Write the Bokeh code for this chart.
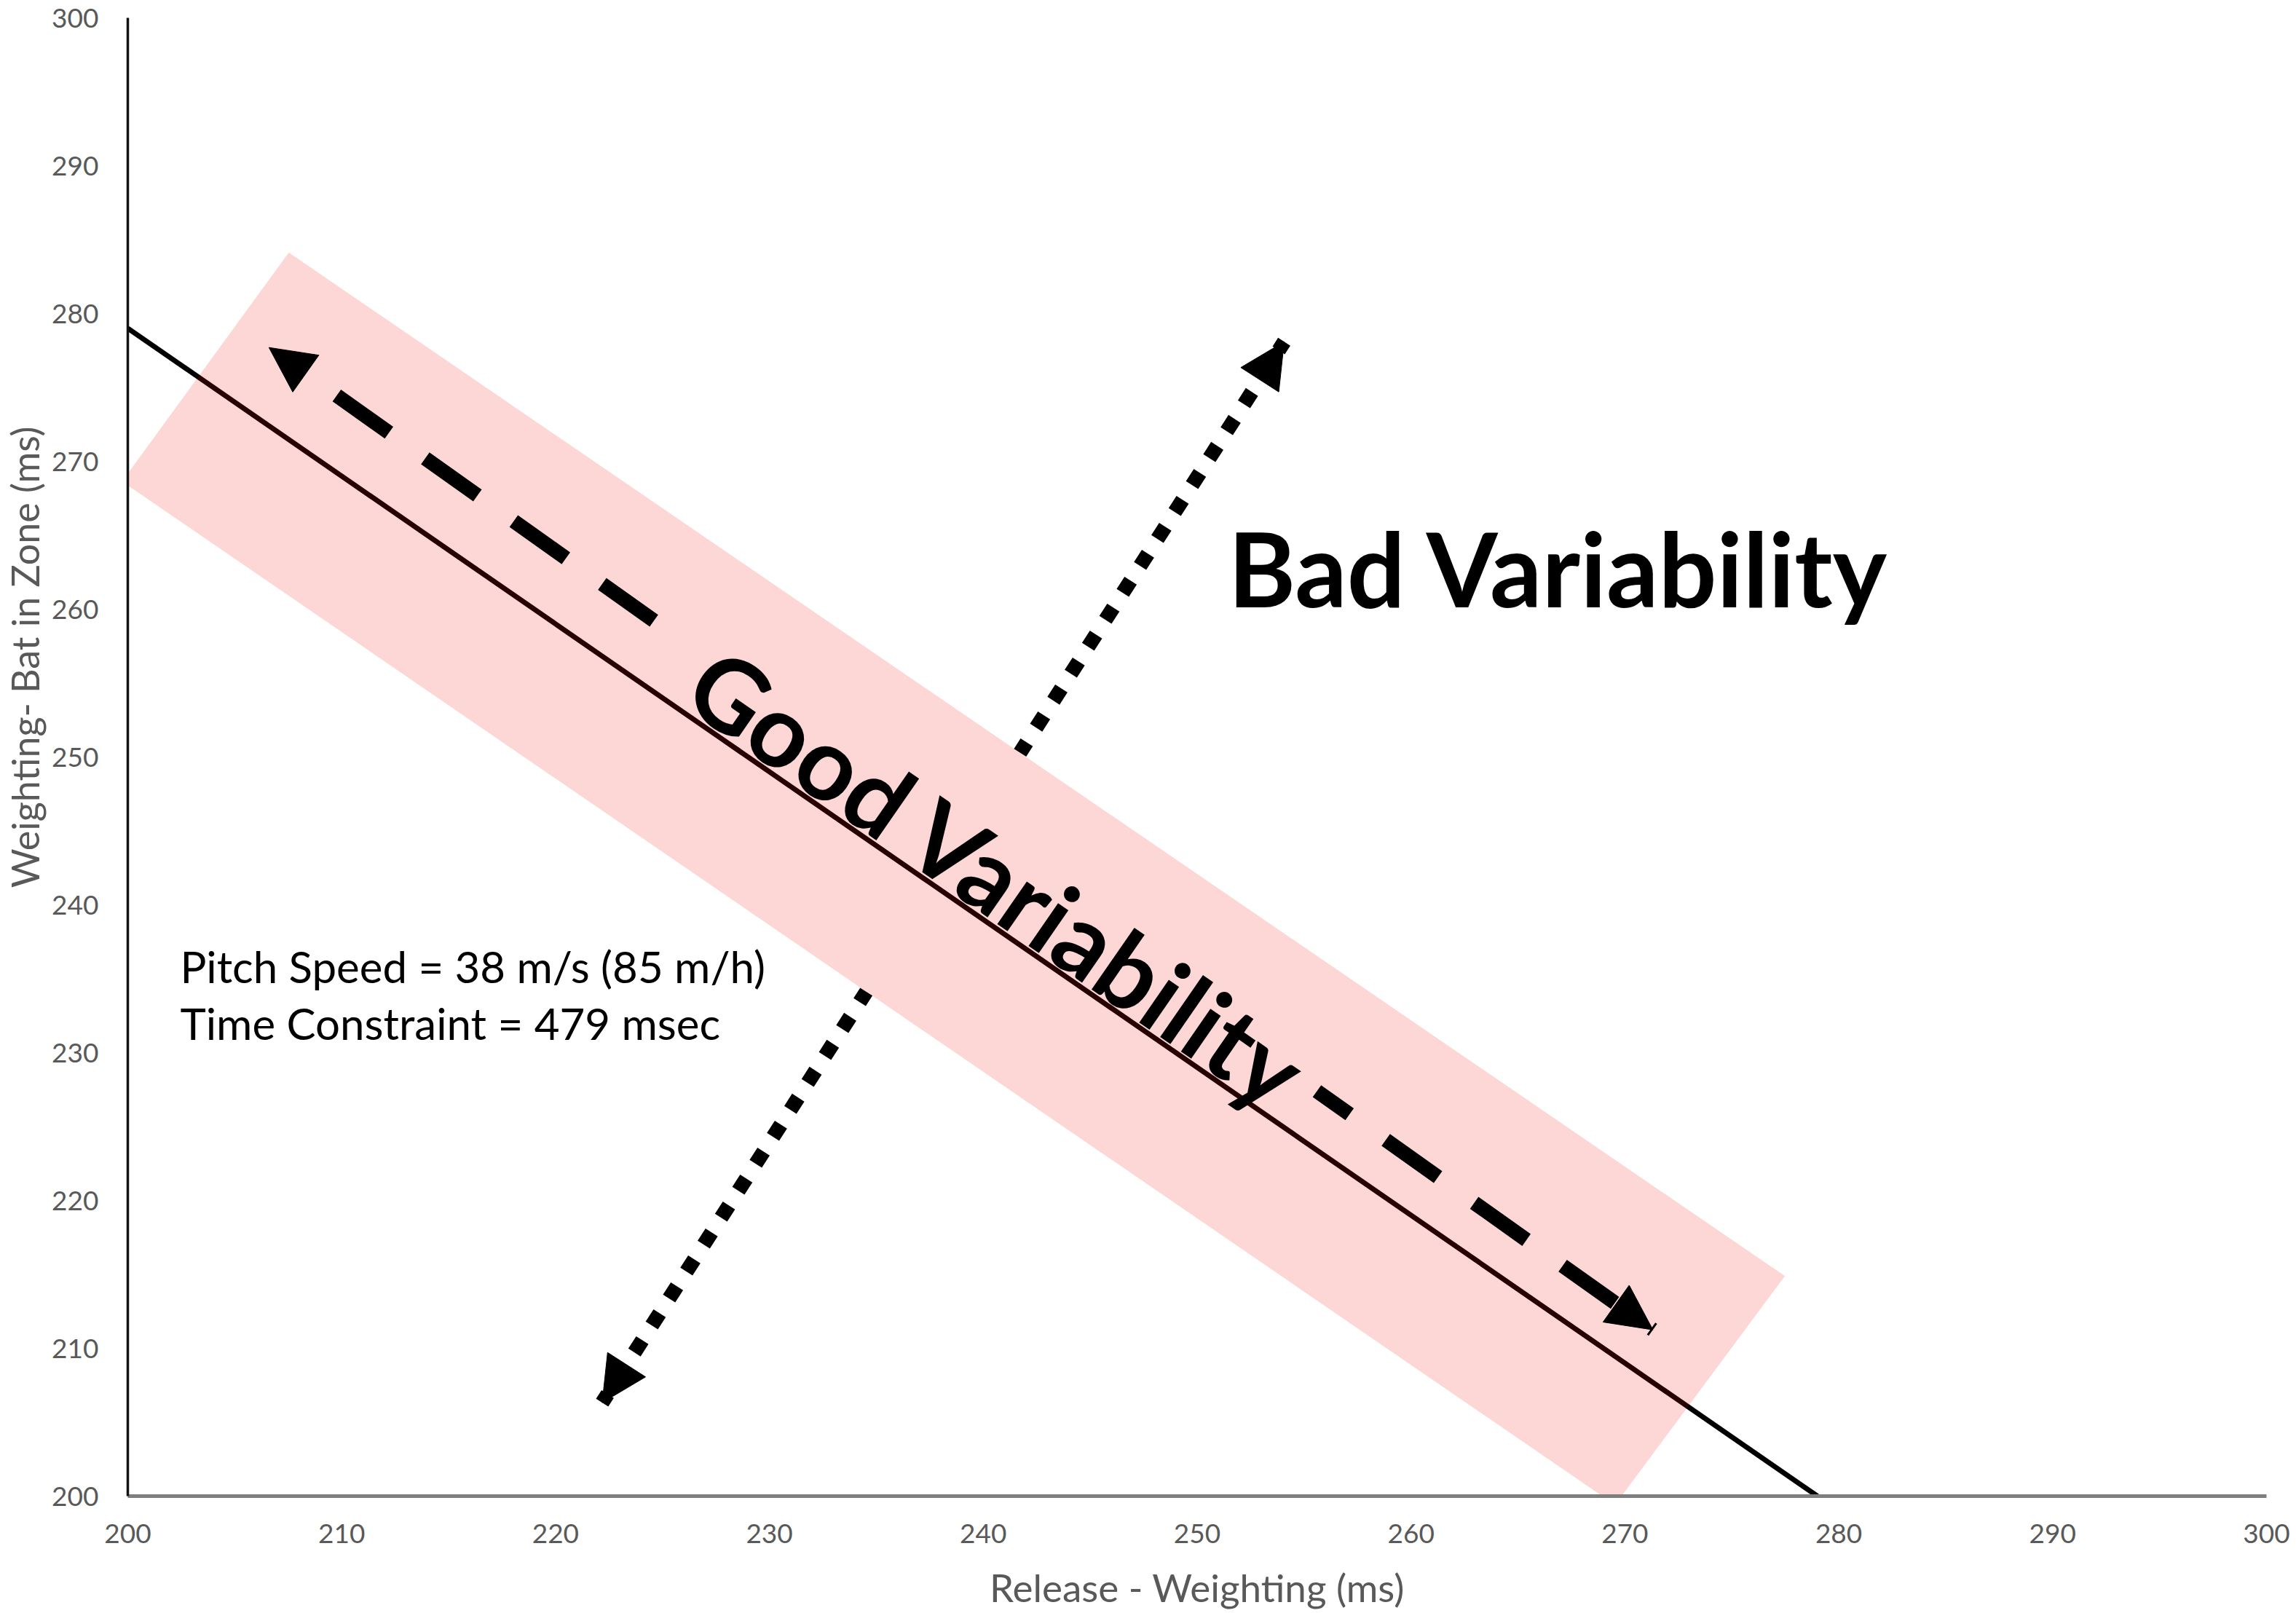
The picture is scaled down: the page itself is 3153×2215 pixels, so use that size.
import numpy as np
from bokeh.plotting import figure
from bokeh.layouts import row
from bokeh.models import Arrow, NormalHead, FixedTicker
from bokeh.core.properties import value
from bokeh.embed import file_html
from bokeh.resources import INLINE

# ---------------- data ----------------
x_ticks = [200, 210, 220, 230, 240, 250, 260, 270, 280, 290, 300]
y_ticks = [200, 210, 220, 230, 240, 250, 260, 270, 280, 290, 300]
x_title = "Release - Weighting (ms)"
y_title = "Weighting- Bat in Zone (ms)"

# time-constraint line: (Release-Weighting) + (Weighting-Bat in Zone) = 479 ms
time_constraint = 479
constraint_x = [200, 279]
constraint_y = [279, 200]

# pink "good variability" band (corners)
band_x = [207.53, 277.48, 269.54, 199.73]
band_y = [284.12, 214.89, 199.41, 268.64]

# dashed double arrow along the constraint (two pieces, gap for the label)
good_seg_x0 = [209.77, 255.60]
good_seg_y0 = [274.45, 227.40]
good_seg_x1 = [224.60, 271.31]
good_seg_y1 = [259.22, 211.25]
good_tip_x = [206.60, 271.31]
good_tip_y = [277.70, 211.25]

# dotted double arrow across the constraint (interrupted inside the band)
bad_tip_x = [222.18, 254.07]
bad_tip_y = [206.32, 278.09]
bad_edge_x = [234.53, 241.72]
bad_edge_y = [234.12, 250.29]

good_label = ["Good Variability"]
good_label_x = [240.73]
good_label_y = [241.82]
bad_label = ["Bad Variability"]
bad_label_x = [251.45]
bad_label_y = [262.8]
info_lines = ["Pitch Speed = 38 m/s (85 m/h)", "Time Constraint = 479 msec"]
info_x = [202.45, 202.45]
info_y = [235.83, 231.99]

# ---------------- layout ----------------
total_w, total_h = 3145, 2213
title_w = 68
frame_w, frame_h = 2939, 2036
bl, br, bt, bb = 173 - title_w, 33, 24, 153
FONT = "Lato"
GRAY = "#595959"

# narrow strip on the left holding the vertical axis title
tf = figure(width=title_w, height=total_h, x_range=(0, title_w), y_range=(0, total_h),
            output_backend="svg", toolbar_location=None,
            x_axis_type=None, y_axis_type=None, min_border=0)
tf.grid.visible = False
tf.outline_line_color = None
tf.text([33], [1256], text=[y_title], angle=np.pi / 2,
        text_font=value(FONT), text_font_size=value("52px"), text_color=GRAY,
        text_align="center", text_baseline="middle")

p = figure(width=total_w - title_w, height=total_h,
           x_range=(200, 300), y_range=(200, 300),
           output_backend="svg", toolbar_location=None,
           min_border_left=bl, min_border_right=br,
           min_border_top=bt, min_border_bottom=bb)
p.grid.visible = False
p.outline_line_color = None
p.background_fill_color = "white"
p.border_fill_color = "white"

for ax, ticks in ((p.xaxis[0], x_ticks), (p.yaxis[0], y_ticks)):
    ax.ticker = FixedTicker(ticks=ticks)
    ax.major_tick_line_color = None
    ax.minor_tick_line_color = None
    ax.major_tick_out = 0
    ax.major_label_text_font = FONT
    ax.major_label_text_font_size = "37px"
    ax.major_label_text_color = GRAY

p.xaxis.axis_label = x_title
p.xaxis.axis_label_text_font = FONT
p.xaxis.axis_label_text_font_size = "53px"
p.xaxis.axis_label_text_font_style = "normal"
p.xaxis.axis_label_text_color = GRAY
p.xaxis.axis_label_standoff = 26
p.xaxis.axis_line_color = "#7F7F7F"
p.xaxis.axis_line_width = 5
p.xaxis.major_label_standoff = 38

p.yaxis.axis_line_color = "#111111"
p.yaxis.axis_line_width = 3.5
p.yaxis.major_label_standoff = 40

# constraint line (under the translucent band)
p.line(constraint_x, constraint_y, line_color="black", line_width=7)

# band
p.patch(band_x, band_y, fill_color="#F00000", fill_alpha=0.16, line_color=None)

# dashed "good" arrow pieces
p.line([good_seg_x0[0], good_seg_x1[0]], [good_seg_y0[0], good_seg_y1[0]],
       line_color="black", line_width=20, line_dash="88 61", line_dash_offset=0, line_cap="butt")
p.line([good_seg_x0[1], good_seg_x1[1]], [good_seg_y0[1], good_seg_y1[1]],
       line_color="black", line_width=20, line_dash="88 61", line_dash_offset=33, line_cap="butt")
for i in range(2):
    p.add_layout(Arrow(end=NormalHead(size=62, fill_color="black", line_color="black", line_width=1),
                       x_start=good_seg_x0[i], y_start=good_seg_y0[i],
                       x_end=good_tip_x[i], y_end=good_tip_y[i],
                       line_alpha=0, line_width=1))

# dotted "bad" arrow pieces
for i in range(2):
    p.line([bad_tip_x[i], bad_edge_x[i]], [bad_tip_y[i], bad_edge_y[i]],
           line_color="black", line_width=20, line_dash="20 24", line_dash_offset=6, line_cap="butt")
    p.add_layout(Arrow(end=NormalHead(size=62, fill_color="black", line_color="black", line_width=1),
                       x_start=bad_edge_x[i], y_start=bad_edge_y[i],
                       x_end=bad_tip_x[i], y_end=bad_tip_y[i],
                       line_alpha=0, line_width=1))

# texts
angle = -np.arctan(frame_h / frame_w)
p.text(good_label_x, good_label_y, text=good_label, angle=angle,
       text_font=value(FONT), text_font_size=value("139px"), text_font_style="bold",
       text_color="black", text_align="center", text_baseline="alphabetic")
p.text(bad_label_x, bad_label_y, text=bad_label,
       text_font=value(FONT), text_font_size=value("141px"), text_font_style="bold",
       text_color="black", text_align="left", text_baseline="alphabetic")
p.text(info_x, info_y, text=info_lines,
       text_font=value(FONT), text_font_size=value("60px"),
       text_color="black", text_align="left", text_baseline="alphabetic")

layout = row(tf, p)
open("out.html", "w").write(file_html(layout, INLINE))
